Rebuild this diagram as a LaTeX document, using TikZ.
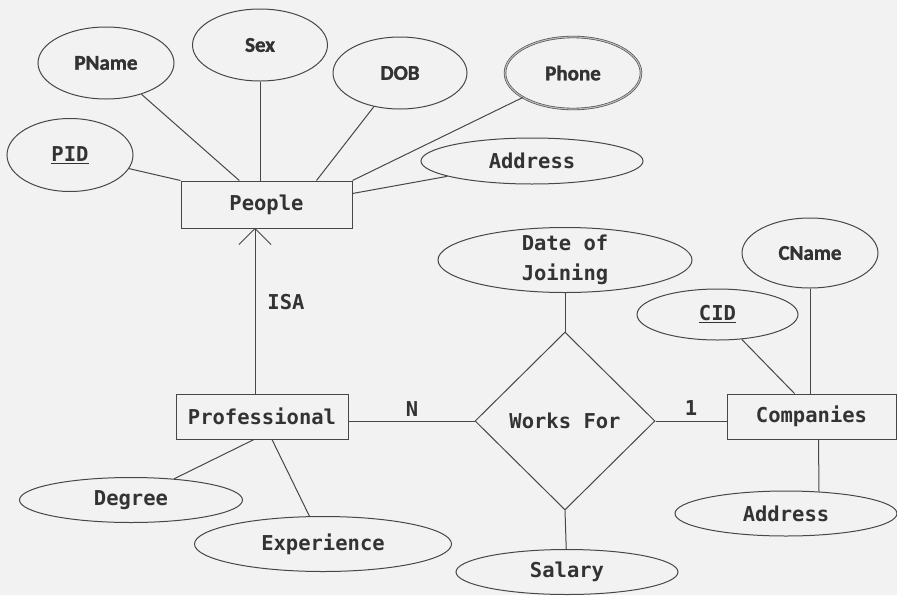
\documentclass[tikz,border=0pt]{standalone}
\usepackage{fontspec}
\setmonofont{DejaVu Sans Mono}
\newfontfamily\calib{Carlito}[BoldFont={Carlito Bold},BoldFeatures={FakeBold=1.5}]
\usetikzlibrary{shapes.geometric,calc}
\definecolor{lc}{HTML}{474747}
\definecolor{tc}{HTML}{333333}
\definecolor{bg}{HTML}{F2F2F2}
\begin{document}
\begin{tikzpicture}[x=1pt,y=-1pt,
  mono/.style={text=tc,font=\ttfamily\bfseries\fontsize{20.5}{30}\selectfont},
  cal/.style={text=tc,font=\calib\bfseries\fontsize{21}{25}\selectfont},
  attr/.style={draw=lc, line width=1pt, ellipse, inner sep=0pt},
  entity/.style={draw=lc, line width=1pt, rectangle, inner sep=0pt},
  rel/.style={draw=lc, line width=1pt, diamond, inner sep=0pt},
  conn/.style={draw=lc, line width=1pt},
  lbl/.style={mono}]
\fill[bg] (0,0) rectangle (897,595);
\useasboundingbox (0,0) rectangle (897,595);

% People attributes
\node[attr,cal,minimum width=136pt,minimum height=72pt] (pname) at (106,63) {PName};
\node[attr,cal,minimum width=135pt,minimum height=72pt] (sex) at (260,45) {Sex};
\node[attr,cal,minimum width=134pt,minimum height=72pt] (dob) at (400,73) {DOB};
\node[attr,cal,minimum width=136pt,minimum height=72pt,double=gray!55,double distance=1.2pt,line width=0.6pt] (phone) at (573,73) {Phone};
\node[attr,mono,minimum width=222pt,minimum height=46pt] (addr1) at (532,161) {Address};
\node[attr,mono,minimum width=126pt,minimum height=73pt] (pid) at (70,155) {\underline{PID}};

\node[entity,mono,minimum width=171pt,minimum height=47pt] (people) at (266.5,204.5) {People};
\node[entity,mono,minimum width=172pt,minimum height=45pt] (prof) at (262,416.5) {Professional};
\node[entity,mono,minimum width=169pt,minimum height=45pt] (comp) at (811.5,416.5) {Companies};

\node[rel,mono,minimum width=180pt,minimum height=178pt] (works) at (565,421) {Works For};

\node[attr,minimum width=254pt,minimum height=65pt,
  label={[mono,align=center]center:Date of\\Joining}] (doj) at (565,260) {};
\node[attr,mono,minimum width=222pt,minimum height=45pt] (salary) at (567,572) {Salary};

\node[attr,cal,minimum width=136pt,minimum height=70pt] (cname) at (810,253) {CName};
\node[attr,mono,minimum width=161pt,minimum height=51pt] (cid) at (717.5,314.5) {\underline{CID}};
\node[attr,mono,minimum width=222pt,minimum height=45pt] (addr2) at (786,513.5) {Address};

\node[attr,mono,minimum width=223pt,minimum height=45pt] (degree) at (131,500) {Degree};
\node[attr,mono,minimum width=257pt,minimum height=55pt] (exp) at (323,544) {Experience};

% connectors People
\draw[conn] (pname) -- (people);
\draw[conn] (sex) -- (sex |- people.north);
\draw[conn] (dob) -- ($(people.north)+(50,0)$);
\draw[conn] (phone) -- (people.north east);
\draw[conn] (addr1) -- ($(people.east)+(0,-11)$);
\draw[conn] (pid) -- (people.north west);

% ISA
\coordinate (isatop) at ($(people.south)+(-11.5,0)$);
\draw[conn] (prof.north -| isatop) -- (isatop);
\draw[conn,line join=miter] ($(isatop)+(-16,16)$) -- (isatop) -- ($(isatop)+(16,16)$);
\node[lbl] (isa) at (286,302) {ISA};

% Professional
\draw[conn] ($(prof.south)+(-8,0)$) -- (degree);
\draw[conn] ($(prof.south)+(10,0)$) -- (exp);
\draw[conn] (works.west) -- (works.west -| prof.east);
\node[lbl] (n) at (412,409) {N};

% Works For
\draw[conn] (works.north) -- (doj);
\draw[conn] (works.south) -- (salary);
\draw[conn] (works.east) -- (works.east -| comp.west);
\node[lbl] (one) at (691,408) {1};

% Companies
\draw[conn] (cname) -- (cname |- comp.north);
\draw[conn] (cid) -- ($(comp.north)+(-17,0)$);
\draw[conn] ($(comp.south)+(7,0)$) -- ($(addr2.north)+(33,1)$);
\end{tikzpicture}
\end{document}
